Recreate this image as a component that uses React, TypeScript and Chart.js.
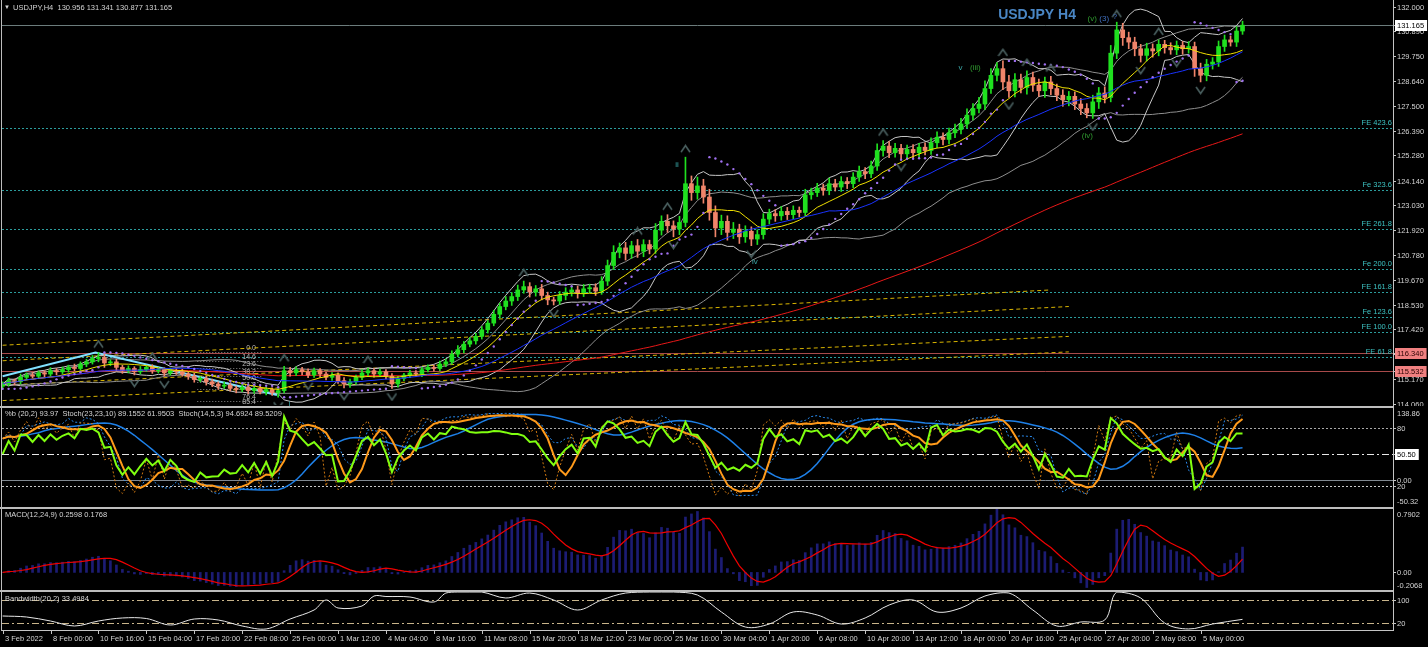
import React, { useEffect, useRef } from "react";
import { Chart, registerables } from "chart.js";

Chart.register(...registerables);

// ------------------------------------------------------------------ DATA
const firstOpen = 114.85;
const closes = [
  114.95,115.10,115.05,115.25,115.35,115.30,115.45,115.40,115.55,115.50,
  115.60,115.70,115.65,115.85,115.95,116.10,116.15,115.90,115.95,115.70,
  115.55,115.65,115.50,115.60,115.70,115.55,115.60,115.45,115.55,115.50,
  115.40,115.30,115.15,115.20,115.05,114.95,114.85,114.90,114.75,114.70,
  114.80,114.65,114.75,114.60,114.70,114.55,114.65,115.55,115.45,115.60,
  115.50,115.35,115.55,115.40,115.25,115.35,115.10,114.95,115.05,115.25,
  115.45,115.55,115.40,115.50,115.30,114.95,115.20,115.35,115.45,115.40,
  115.60,115.70,115.65,115.85,115.95,116.30,116.50,116.75,116.90,117.10,
  117.40,117.70,118.10,118.45,118.70,118.90,119.20,119.35,119.10,119.25,
  118.95,118.75,118.70,118.95,119.10,119.20,119.05,119.25,119.30,119.15,
  119.60,120.30,120.90,121.10,120.85,121.20,120.95,121.25,121.05,121.90,
  122.30,122.10,121.95,122.25,124.00,123.60,123.90,123.40,122.70,122.00,
  122.30,121.80,121.95,121.60,121.85,121.50,121.70,122.40,122.65,122.55,
  122.75,122.60,122.80,122.70,123.50,123.60,123.80,123.70,124.00,123.85,
  124.10,124.00,124.30,124.55,124.45,124.80,125.50,125.70,125.40,125.60,
  125.35,125.55,125.40,125.65,125.50,125.85,126.10,126.00,126.30,126.45,
  126.70,127.10,127.40,127.60,128.30,128.90,129.20,128.60,128.20,128.70,
  128.35,128.80,128.45,128.20,128.60,128.30,128.00,127.80,127.95,127.60,
  127.40,127.20,127.70,128.10,127.90,129.90,130.95,130.60,130.40,130.10,
  129.80,130.10,130.00,130.30,130.15,130.05,130.25,130.10,130.20,129.20,
  128.90,129.40,129.50,130.20,130.50,130.40,130.90,131.165,
];
const upperWicks = [
  .10,.12,.08,.15,.10,.12,.08,.10,.14,.10,
  .12,.10,.15,.10,.12,.14,.22,.15,.10,.12,
  .10,.12,.08,.14,.10,.12,.10,.08,.12,.10,
  .12,.10,.14,.08,.10,.12,.10,.14,.08,.10,
  .12,.10,.08,.12,.10,.08,.12,.20,.15,.12,
  .10,.14,.12,.10,.08,.12,.10,.14,.12,.10,
  .15,.12,.10,.14,.10,.12,.10,.08,.12,.10,
  .10,.12,.10,.14,.12,.15,.18,.12,.15,.14,
  .15,.12,.18,.15,.20,.18,.22,.25,.18,.15,
  .20,.15,.12,.18,.20,.15,.18,.20,.15,.18,
  .20,.25,.30,.22,.25,.20,.28,.22,.20,.30,
  .25,.30,.22,.28,1.20,.35,.40,.30,.35,.30,
  .28,.25,.30,.22,.25,.20,.22,.25,.20,.18,
  .22,.18,.20,.15,.25,.20,.22,.18,.25,.20,
  .22,.18,.20,.25,.18,.22,.30,.25,.20,.22,
  .18,.20,.22,.18,.20,.22,.25,.20,.22,.25,
  .25,.28,.22,.30,.35,.30,.27,.35,.30,.28,
  .25,.30,.25,.28,.22,.25,.20,.25,.22,.20,
  .25,.22,.30,.25,.28,.35,.35,.30,.25,.22,
  .20,.25,.22,.20,.18,.22,.20,.18,.22,.20,
  .25,.22,.20,.25,.22,.18,.20,.18,
];
const lowerWicks = [
  .12,.10,.15,.10,.12,.08,.10,.12,.10,.14,
  .10,.12,.10,.08,.12,.10,.15,.20,.12,.15,
  .12,.10,.14,.10,.08,.12,.10,.14,.10,.12,
  .10,.14,.12,.10,.15,.12,.14,.10,.12,.15,
  .10,.14,.12,.10,.15,.12,.20,.10,.15,.12,
  .14,.12,.10,.15,.12,.14,.12,.18,.15,.12,
  .10,.12,.14,.10,.12,.20,.14,.10,.12,.10,
  .12,.10,.12,.10,.12,.10,.12,.15,.12,.15,
  .12,.15,.12,.18,.15,.20,.18,.15,.22,.18,
  .20,.22,.18,.15,.20,.18,.22,.15,.18,.20,
  .15,.20,.18,.25,.30,.22,.28,.25,.22,.20,
  .22,.30,.35,.25,.20,.35,.30,.28,.35,.40,
  .30,.35,.28,.30,.25,.30,.25,.20,.22,.25,
  .20,.22,.18,.20,.15,.20,.18,.22,.20,.18,
  .20,.22,.18,.20,.22,.18,.20,.25,.22,.20,
  .22,.20,.25,.22,.20,.18,.22,.25,.20,.22,
  .20,.18,.22,.20,.25,.22,.25,.35,.30,.28,
  .25,.30,.28,.25,.30,.28,.25,.30,.28,.25,
  .28,.22,.25,.30,.25,.20,.25,.35,.30,.32,
  .30,.25,.28,.22,.25,.20,.22,.25,.20,.35,
  .30,.25,.22,.20,.22,.18,.20,.15,
];

const timeLabels = [
  "3 Feb 2022","8 Feb 00:00","10 Feb 16:00","15 Feb 04:00","17 Feb 20:00","22 Feb 08:00",
  "25 Feb 00:00","1 Mar 12:00","4 Mar 04:00","8 Mar 16:00","11 Mar 08:00","15 Mar 20:00",
  "18 Mar 12:00","23 Mar 00:00","25 Mar 16:00","30 Mar 04:00","1 Apr 20:00","6 Apr 08:00",
  "10 Apr 20:00","13 Apr 12:00","18 Apr 00:00","20 Apr 16:00","25 Apr 04:00","27 Apr 20:00",
  "2 May 08:00","5 May 00:00",
];
const barsPerTimeLabel = 8;

const priceTicks = [
  "132.000","130.890","129.750","128.640","127.500","126.390","125.280","124.140","123.030",
  "121.920","120.780","119.670","118.530","117.420","116.310","115.170","114.060",
];
const bidPrice = 131.165;
const markedPrices = [116.34, 115.532];

const feLevels = [126.53, 123.70, 121.95, 120.16, 119.09, 117.98, 117.30, 116.18];
const feNames = ["FE 423.6","Fe 323.6","FE 261.8","Fe 200.0","FE 161.8","Fe 123.6","FE 100.0","FE 61.8"];

const fibNames = ["0.0","14.6","23.6","38.2","50.0","61.8","76.4","85.4"];
const fibPrices = [116.58, 116.17, 115.84, 115.49, 115.22, 114.90, 114.38, 114.14];
const fibFromBar = 32.5;
const fibToBar = 43.5;
const fibLabelBar = 42.3;

const zigzagBars = [0, 15.5, 45.8];
const zigzagPrices = [115.30, 116.37, 114.45];

const channelStartBars = [0, 0, 0, 0];
const channelStartPrices = [116.70, 116.00, 114.90, 114.20];
const channelEndBars = [175, 178, 178, 178];
const channelEndPrices = [119.20, 118.45, 117.10, 116.40];

const waveTexts = ["i", "ii", "iv", "v", "(iii)", "(iv)", "(v)", "(3)", "?"];
const waveBars = [47.9, 112.6, 125.6, 159.9, 162.4, 181.1, 181.9, 183.9, 185.7];
const wavePrices = [114.04, 124.85, 120.46, 129.23, 129.23, 126.16, 131.44, 131.44, 131.53];
const waveKinds = ["teal", "teal", "teal", "teal", "green", "green", "green", "blue", "blue"];

const watermarkText = "USDJPY H4";
const watermarkBar = 166.2;
const watermarkPrice = 131.62;

const bandwidthBars = [0,4,8,12,16,20,24,28,32,36,40,44,48,52,54,56,60,62,64,68,72,74,76,80,84,88,92,96,100,104,108,112,116,120,124,128,132,136,140,144,148,152,156,160,164,168,172,176,180,184,186,190,194,198,202,207];
const bandwidthValues = [45,41.6,27.8,10.7,27.8,38.2,36.4,14.1,34.7,31.3,10.7,0.4,34.7,65.6,100,72.5,79.4,113.7,112,110.3,93.1,124,127.5,127.5,106.9,124,100,65.6,100,124,127.5,127.5,117.2,58.8,7.2,17.5,58.8,48.5,17.5,38.2,82.8,100,58.8,72.5,113.7,124,65.6,10.7,24.4,31.3,127.5,106.9,21,0.4,17.5,33.5];

const mainTitle = "USDJPY,H4  130.956 131.341 130.877 131.165";
const stochTitle = "%b (20,2) 93.97  Stoch(23,23,10) 89.1552 61.9503  Stoch(14,5,3) 94.6924 89.5209";
const macdTitle = "MACD(12,24,9) 0.2598 0.1768";
const bwTitle = "Bandwidth(20,2) 33.4984";

// ------------------------------------------------------------------ LAYOUT / STYLE
const W = 1428;
const FONT = '"Liberation Sans", Arial, sans-serif';
const PAD_LEFT = 2;
const PAD_RIGHT = 35;
const BAR_PX = 5.99;
const X_MIN = -0.1;
const X_MAX = X_MIN + (W - PAD_LEFT - PAD_RIGHT) / BAR_PX;
const TXT = "#d4d4d4";
const UP = "#1fe01f";
const DOWN = "#f0846a";
const waveColors: any = { teal: "#3aa8a8", green: "#2f9a2f", blue: "#4070c0" };

// ------------------------------------------------------------------ DERIVED
const N = closes.length;
const opens = closes.map((c, i) => (i === 0 ? firstOpen : closes[i - 1]));
const highs = closes.map((c, i) => Math.max(opens[i], c) + upperWicks[i]);
const lows = closes.map((c, i) => Math.min(opens[i], c) - lowerWicks[i]);

function sma(a: number[], n: number) {
  return a.map((_, i) => {
    let s = 0, k = 0;
    for (let j = Math.max(0, i - n + 1); j <= i; j++) { s += a[j]; k++; }
    return s / k;
  });
}
function ema(a: number[], n: number) {
  const k = 2 / (n + 1);
  let e = a[0];
  return a.map((v, i) => (e = i === 0 ? v : e + k * (v - e)));
}
function bands(a: number[], n: number, mult: number) {
  const m = sma(a, n);
  const up: number[] = [], lo: number[] = [];
  a.forEach((_, i) => {
    let s = 0, k = 0;
    for (let j = Math.max(0, i - n + 1); j <= i; j++) { s += (a[j] - m[i]) ** 2; k++; }
    const sd = Math.sqrt(s / k);
    up.push(m[i] + mult * sd);
    lo.push(m[i] - mult * sd);
  });
  return { m, up, lo };
}
function slowK(n: number, slowing: number) {
  const num: number[] = [], den: number[] = [];
  closes.forEach((c, i) => {
    let hh = -Infinity, ll = Infinity;
    for (let j = Math.max(0, i - n + 1); j <= i; j++) { hh = Math.max(hh, highs[j]); ll = Math.min(ll, lows[j]); }
    num.push(c - ll); den.push(hh - ll);
  });
  return closes.map((_, i) => {
    let a = 0, b = 0;
    for (let j = Math.max(0, i - slowing + 1); j <= i; j++) { a += num[j]; b += den[j]; }
    return b > 0 ? (a / b) * 100 : 50;
  });
}
function psar(step = 0.02, max = 0.2) {
  const out: number[] = [lows[0]];
  let up = true, af = step, ep = highs[0], sar = lows[0];
  for (let i = 1; i < N; i++) {
    sar = sar + af * (ep - sar);
    if (up) {
      sar = Math.min(sar, lows[i - 1], lows[Math.max(0, i - 2)]);
      if (lows[i] < sar) { up = false; sar = ep; ep = lows[i]; af = step; }
      else if (highs[i] > ep) { ep = highs[i]; af = Math.min(af + step, max); }
    } else {
      sar = Math.max(sar, highs[i - 1], highs[Math.max(0, i - 2)]);
      if (highs[i] > sar) { up = true; sar = ep; ep = highs[i]; af = step; }
      else if (lows[i] < ep) { ep = lows[i]; af = Math.min(af + step, max); }
    }
    out.push(sar);
  }
  return out;
}

const bb = bands(closes, 10, 2);
const bbWide = bands(closes, 25, 1.5);
const maYellow = bb.m;
const maBlue = sma(closes, 25);
const maRed = sma(closes, 100);
const sar = psar();
const pctB = closes.map((c, i) => {
  const w = bb.up[i] - bb.lo[i];
  return w > 0 ? ((c - bb.lo[i]) / w) * 100 : 50;
});
const orangeDotted = slowK(7, 1);
const orangeSolid = sma(slowK(7, 3), 3);
const blueDotted = slowK(12, 2);
const blueSolid = sma(slowK(12, 12), 5);
const emaFast = ema(closes, 6);
const emaSlow = ema(closes, 12);
const macdMain = emaFast.map((v, i) => v - emaSlow[i]);
const macdSignal = sma(macdMain, 5);

const fractUp: any[] = [], fractDn: any[] = [];
for (let i = 2; i < N - 2; i++) {
  if (highs[i] > highs[i - 1] && highs[i] > highs[i - 2] && highs[i] >= highs[i + 1] && highs[i] >= highs[i + 2]) fractUp.push({ x: i, y: highs[i] });
  if (lows[i] < lows[i - 1] && lows[i] < lows[i - 2] && lows[i] <= lows[i + 1] && lows[i] <= lows[i + 2]) fractDn.push({ x: i, y: lows[i] });
}

const P = (arr: number[]) => arr.map((v, i) => ({ x: i, y: v }));

// ------------------------------------------------------------------ HELPERS
function lineDs(data: any[], color: string, width: number, order: number, extra: any = {}) {
  return { type: "line", data, borderColor: color, borderWidth: width, pointRadius: 0, fill: false, tension: 0, order, ...extra };
}
function baseOptions(padding: any, yScales: any) {
  return {
    responsive: false,
    maintainAspectRatio: false,
    animation: false,
    devicePixelRatio: 1,
    events: [],
    layout: { padding, autoPadding: false },
    plugins: { legend: { display: false }, tooltip: { enabled: false }, title: { display: false } },
    scales: {
      x: { type: "linear", min: X_MIN, max: X_MAX, display: false, offset: false },
      ...yScales,
    },
  };
}
function drawRightAxis(chart: any, labels: any[]) {
  const { ctx, chartArea: a } = chart;
  ctx.save();
  ctx.strokeStyle = "#c4c4c4";
  ctx.lineWidth = 1;
  ctx.beginPath();
  ctx.moveTo(a.right + 0.5, 0);
  ctx.lineTo(a.right + 0.5, a.bottom + 1);
  ctx.stroke();
  ctx.font = `7.5px ${FONT}`;
  ctx.textBaseline = "middle";
  ctx.textAlign = "left";
  const ordered = [...labels.filter((l) => !l.box), ...labels.filter((l) => l.box)];
  for (const l of ordered) {
    const y = Math.round(l.y) + 0.5;
    if (l.tick !== false) {
      ctx.strokeStyle = "#c4c4c4";
      ctx.beginPath();
      ctx.moveTo(a.right, y);
      ctx.lineTo(a.right + 3, y);
      ctx.stroke();
    }
    if (l.box) {
      const w = ctx.measureText(l.text).width;
      ctx.fillStyle = l.box.bg;
      ctx.fillRect(a.right + 2, y - 5.5, w + 5, 11);
      ctx.fillStyle = l.box.fg;
    } else ctx.fillStyle = TXT;
    ctx.fillText(l.text, a.right + 4, y + 0.5);
  }
  ctx.restore();
}
function drawFrame(chart: any, topSeparator: boolean) {
  const { ctx, chartArea: a } = chart;
  ctx.save();
  ctx.fillStyle = "#bdbdbd";
  if (topSeparator) ctx.fillRect(0, 0, a.right + 1, 2);
  ctx.fillRect(1, 0, 1, a.bottom + 1);
  ctx.restore();
}
function hLine(ctx: any, a: any, y: number, color: string, dash: number[], width = 1, x0?: number, x1?: number) {
  ctx.save();
  ctx.strokeStyle = color;
  ctx.lineWidth = width;
  ctx.setLineDash(dash);
  const yy = Math.round(y) + 0.5;
  ctx.beginPath();
  ctx.moveTo(x0 ?? a.left, yy);
  ctx.lineTo(x1 ?? a.right, yy);
  ctx.stroke();
  ctx.restore();
}
function panelTitle(ctx: any, text: string, y: number) {
  ctx.save();
  ctx.font = `7.5px ${FONT}`;
  ctx.fillStyle = TXT;
  ctx.textBaseline = "middle";
  ctx.textAlign = "left";
  ctx.fillText(text, 5, y);
  ctx.restore();
}
function chevron(up: boolean) {
  const c = document.createElement("canvas");
  c.width = 11;
  c.height = 26;
  const g = c.getContext("2d")!;
  g.strokeStyle = "#4a6060";
  g.lineWidth = 1.6;
  g.beginPath();
  if (up) { g.moveTo(1, 8); g.lineTo(5.5, 1.5); g.lineTo(10, 8); }
  else { g.moveTo(1, 18); g.lineTo(5.5, 24.5); g.lineTo(10, 18); }
  g.stroke();
  return c;
}

// ------------------------------------------------------------------ CHARTS
function buildMain(canvas: HTMLCanvasElement) {
  const candleColors = closes.map((c, i) => (c >= opens[i] ? UP : DOWN));
  const channels = channelStartBars.map((b, k) =>
    lineDs([{ x: b, y: channelStartPrices[k] }, { x: channelEndBars[k], y: channelEndPrices[k] }], "#d8b400", 1, 30, { borderDash: [4, 3] })
  );
  const overlay = {
    id: "mainOverlay",
    beforeDatasetsDraw(chart: any) {
      const { ctx, chartArea: a, scales } = chart;
      const y = scales.y, x = scales.x;
      ctx.save();
      ctx.beginPath();
      ctx.rect(a.left, a.top, a.right - a.left, a.bottom - a.top);
      ctx.clip();
      feLevels.forEach((p) => hLine(ctx, a, y.getPixelForValue(p), "#2c9c9c", [2, 2]));
      hLine(ctx, a, y.getPixelForValue(bidPrice), "#6c7c7c", []);
      markedPrices.forEach((p) => hLine(ctx, a, y.getPixelForValue(p), "#a84a4a", []));
      const fx0 = x.getPixelForValue(fibFromBar), fx1 = x.getPixelForValue(fibToBar);
      fibPrices.forEach((p) => hLine(ctx, a, y.getPixelForValue(p) + 4, "#8a8a8a", [1, 2], 1, fx0, fx1));
      ctx.font = `7px ${FONT}`;
      ctx.fillStyle = "#b8b8b8";
      ctx.textAlign = "right";
      ctx.textBaseline = "middle";
      fibNames.forEach((t, k) => ctx.fillText(t, x.getPixelForValue(fibLabelBar), y.getPixelForValue(fibPrices[k])));
      ctx.restore();
    },
    afterDatasetsDraw(chart: any) {
      const { ctx, chartArea: a, scales } = chart;
      const y = scales.y, x = scales.x;
      ctx.save();
      ctx.font = `7.5px ${FONT}`;
      ctx.fillStyle = "#3cc0c0";
      ctx.textAlign = "right";
      ctx.textBaseline = "bottom";
      feLevels.forEach((p, k) => ctx.fillText(feNames[k], a.right - 1, Math.round(y.getPixelForValue(p)) - 1));
      ctx.font = `8px ${FONT}`;
      ctx.textAlign = "center";
      ctx.textBaseline = "middle";
      waveTexts.forEach((t, k) => {
        ctx.fillStyle = waveColors[waveKinds[k]];
        ctx.fillText(t, x.getPixelForValue(waveBars[k]), y.getPixelForValue(wavePrices[k]));
      });
      ctx.font = `bold 14px ${FONT}`;
      ctx.fillStyle = "#4a86c4";
      ctx.textAlign = "left";
      ctx.fillText(watermarkText, x.getPixelForValue(watermarkBar), y.getPixelForValue(watermarkPrice));
      ctx.restore();
    },
    afterDraw(chart: any) {
      const { ctx, scales } = chart;
      const y = scales.y;
      drawFrame(chart, false);
      ctx.save();
      ctx.fillStyle = TXT;
      ctx.font = `6px ${FONT}`;
      ctx.textBaseline = "middle";
      ctx.fillText("\u25BC", 4, 7.5);
      ctx.font = `7.5px ${FONT}`;
      ctx.fillText(mainTitle, 13, 7.5);
      ctx.restore();
      const labels: any[] = priceTicks.map((t) => ({ y: y.getPixelForValue(parseFloat(t)), text: t }));
      labels.push({ y: y.getPixelForValue(bidPrice), text: bidPrice.toFixed(3), box: { bg: "#ffffff", fg: "#000000" } });
      markedPrices.forEach((p) => labels.push({ y: y.getPixelForValue(p), text: p.toFixed(3), box: { bg: "#f08080", fg: "#2a0000" } }));
      drawRightAxis(chart, labels);
    },
  };
  return new Chart(canvas, {
    type: "bar",
    data: {
      datasets: [
        ...channels,
        lineDs(P(bbWide.up), "#8e8e8e", 1, 25),
        lineDs(P(bbWide.lo), "#8e8e8e", 1, 25),
        lineDs(P(bb.up), "#c8c8c8", 1, 24),
        lineDs(P(bb.lo), "#c8c8c8", 1, 24),
        lineDs(zigzagBars.map((b, k) => ({ x: b, y: zigzagPrices[k] })), "#80e0ff", 2, 22),
        lineDs(P(maRed), "#e81818", 1, 20),
        {
          type: "bar", data: closes.map((c, i) => ({ x: i, y: [lows[i], highs[i]] })),
          backgroundColor: candleColors, barThickness: 1, grouped: false, borderWidth: 0, order: 12,
        },
        {
          type: "bar", data: closes.map((c, i) => ({ x: i, y: [opens[i], c] })),
          backgroundColor: candleColors, barThickness: 4, grouped: false, borderWidth: 0, minBarLength: 1, order: 11,
        },
        lineDs(P(maYellow), "#f0e000", 1, 6),
        lineDs(P(maBlue), "#1a33ff", 1, 5),
        { type: "line", data: P(sar), showLine: false, pointRadius: 1.2, pointBackgroundColor: "#a070f0", pointBorderWidth: 0, order: 3 },
        { type: "line", data: fractUp, showLine: false, pointStyle: chevron(true), pointRadius: 5, order: 2 },
        { type: "line", data: fractDn, showLine: false, pointStyle: chevron(false), pointRadius: 5, order: 2 },
      ],
    },
    options: baseOptions({ left: PAD_LEFT, right: PAD_RIGHT, top: 3, bottom: 1 }, {
      y: { type: "linear", min: 114.0, max: 132.167, display: false },
    }),
    plugins: [overlay],
  } as any);
}

function buildStoch(canvas: HTMLCanvasElement) {
  const overlay = {
    id: "stochOverlay",
    beforeDatasetsDraw(chart: any) {
      const { ctx, chartArea: a, scales } = chart;
      hLine(ctx, a, scales.ys.getPixelForValue(80), "#a8a8a8", [2, 2]);
      hLine(ctx, a, scales.ys.getPixelForValue(20), "#c8c8c8", [2, 2]);
      hLine(ctx, a, scales.yb.getPixelForValue(50.5), "#e8e8e8", [7, 3, 2, 3]);
      hLine(ctx, a, scales.yb.getPixelForValue(0), "#808890", []);
    },
    afterDraw(chart: any) {
      const { ctx, chartArea: a, scales } = chart;
      drawFrame(chart, true);
      panelTitle(ctx, stochTitle, 8);
      drawRightAxis(chart, [
        { y: a.top + 5, text: "138.86", tick: false },
        { y: scales.ys.getPixelForValue(80), text: "80" },
        { y: scales.yb.getPixelForValue(0), text: "0.00" },
        { y: scales.ys.getPixelForValue(20), text: "20" },
        { y: a.bottom - 5, text: "-50.32", tick: false },
        { y: scales.yb.getPixelForValue(50.5), text: "50.50", box: { bg: "#ffffff", fg: "#000000" } },
      ]);
    },
  };
  return new Chart(canvas, {
    type: "line",
    data: {
      datasets: [
        lineDs(P(blueSolid), "#1e80e8", 1.5, 10, { yAxisID: "ys" }),
        lineDs(P(blueDotted), "#2a8cf0", 1, 9, { yAxisID: "ys", borderDash: [2, 2] }),
        lineDs(P(orangeDotted), "#d07810", 1, 8, { yAxisID: "ys", borderDash: [2, 2] }),
        lineDs(P(orangeSolid), "#ff9a1a", 2, 7, { yAxisID: "ys" }),
        lineDs(P(pctB), "#80ff10", 2, 6, { yAxisID: "yb" }),
      ],
    },
    options: baseOptions({ left: PAD_LEFT, right: PAD_RIGHT, top: 2, bottom: 1 }, {
      yb: { type: "linear", min: -50.32, max: 138.86, display: false },
      ys: { type: "linear", min: 0, max: 100, display: false },
    }),
    plugins: [overlay],
  } as any);
}

function buildMacd(canvas: HTMLCanvasElement) {
  const overlay = {
    id: "macdOverlay",
    afterDraw(chart: any) {
      const { ctx, chartArea: a, scales } = chart;
      drawFrame(chart, true);
      panelTitle(ctx, macdTitle, 8);
      drawRightAxis(chart, [
        { y: a.top + 5, text: "0.7902", tick: false },
        { y: scales.y.getPixelForValue(0), text: "0.00" },
        { y: a.bottom - 4, text: "-0.2068", tick: false },
      ]);
    },
  };
  return new Chart(canvas, {
    type: "bar",
    data: {
      datasets: [
        { type: "bar", data: P(macdMain), backgroundColor: "#1c1c74", barThickness: 2, grouped: false, borderWidth: 0, order: 5 },
        lineDs(P(macdSignal), "#f00000", 1.2, 1),
      ],
    },
    options: baseOptions({ left: PAD_LEFT, right: PAD_RIGHT, top: 2, bottom: 1 }, {
      y: { type: "linear", min: -0.2068, max: 0.7902, display: false },
    }),
    plugins: [overlay],
  } as any);
}

function buildBandwidth(canvas: HTMLCanvasElement) {
  const overlay = {
    id: "bwOverlay",
    beforeDatasetsDraw(chart: any) {
      const { ctx, chartArea: a, scales } = chart;
      hLine(ctx, a, scales.y.getPixelForValue(100), "#c8b48a", [7, 3, 2, 3]);
      hLine(ctx, a, scales.y.getPixelForValue(20), "#c8b48a", [7, 3, 2, 3]);
    },
    afterDraw(chart: any) {
      const { ctx, chartArea: a, scales } = chart;
      drawFrame(chart, true);
      panelTitle(ctx, bwTitle, 9);
      drawRightAxis(chart, [
        { y: scales.y.getPixelForValue(100), text: "100" },
        { y: scales.y.getPixelForValue(20), text: "20" },
      ]);
      ctx.save();
      ctx.fillStyle = "#c4c4c4";
      ctx.fillRect(a.left, a.bottom, a.right - a.left + 1, 1);
      ctx.font = `7.5px ${FONT}`;
      ctx.textBaseline = "middle";
      ctx.textAlign = "left";
      timeLabels.forEach((t, k) => {
        const px = Math.round(scales.x.getPixelForValue(k * barsPerTimeLabel));
        ctx.fillStyle = "#c4c4c4";
        ctx.fillRect(Math.max(px, a.left), a.bottom, 1, 4);
        ctx.fillStyle = TXT;
        ctx.fillText(t, Math.max(px, a.left) + 2, a.bottom + 9);
      });
      ctx.restore();
    },
  };
  return new Chart(canvas, {
    type: "line",
    data: {
      datasets: [
        lineDs(bandwidthBars.map((b, k) => ({ x: b, y: bandwidthValues[k] })), "#e8e8e8", 1, 1, { tension: 0.35 }),
      ],
    },
    options: baseOptions({ left: PAD_LEFT, right: PAD_RIGHT, top: 2, bottom: 17 }, {
      y: { type: "linear", min: -3.1, max: 127.5, display: false },
    }),
    plugins: [overlay],
  } as any);
}

export default function App() {
  const mainRef = useRef<HTMLCanvasElement>(null);
  const stochRef = useRef<HTMLCanvasElement>(null);
  const macdRef = useRef<HTMLCanvasElement>(null);
  const bwRef = useRef<HTMLCanvasElement>(null);

  useEffect(() => {
    const charts = [
      buildMain(mainRef.current!),
      buildStoch(stochRef.current!),
      buildMacd(macdRef.current!),
      buildBandwidth(bwRef.current!),
    ];
    return () => charts.forEach((c) => c.destroy());
  }, []);

  const pos = (top: number): React.CSSProperties => ({ position: "absolute", left: 0, top, display: "block" });
  return (
    <div style={{ position: "fixed", left: 0, top: 0, width: W, height: 647, background: "#000", overflow: "hidden" }}>
      <canvas ref={mainRef} width={W} height={406} style={pos(0)} />
      <canvas ref={stochRef} width={W} height={101} style={pos(406)} />
      <canvas ref={macdRef} width={W} height={83} style={pos(507)} />
      <canvas ref={bwRef} width={W} height={57} style={pos(590)} />
    </div>
  );
}
